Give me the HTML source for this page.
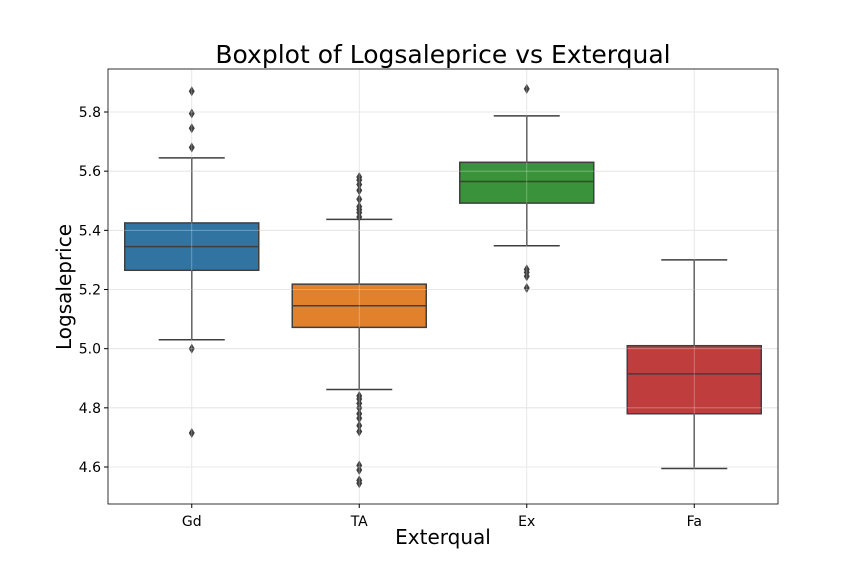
<!DOCTYPE html>
<html><head><meta charset="utf-8"><style>body{margin:0;background:#fff}svg{display:block;font-family:"DejaVu Sans","Liberation Sans",sans-serif}</style></head>
<body>
<svg id="chart" width="864" height="576" xmlns="http://www.w3.org/2000/svg">
<text x="443" y="63" font-size="25" text-anchor="middle">Boxplot of Logsaleprice vs Exterqual</text>
<text x="443" y="544" font-size="20" text-anchor="middle">Exterqual</text>
<text transform="translate(71,287) rotate(-90)" font-size="20" text-anchor="middle">Logsaleprice</text>
<g id="grid"></g><g id="boxes"></g><g id="gridtop"></g><g id="axes"></g>
</svg>
<script>
const categories=["Gd","TA","Ex","Fa"];
const colors=["#3274a1","#e1812c","#3a923a","#c03d3e"];
const q1=[5.265,5.072,5.492,4.78];
const medians=[5.345,5.145,5.565,4.915];
const q3=[5.425,5.218,5.63,5.01];
const whiskLow=[5.03,4.862,5.348,4.595];
const whiskHigh=[5.645,5.437,5.787,5.30];
const outliers=[[5.87,5.795,5.745,5.68,5.0,4.715],
[5.445,5.46,5.47,5.48,5.505,5.535,5.555,5.57,5.58,4.84,4.83,4.815,4.8,4.78,4.765,4.74,4.72,4.605,4.59,4.555,4.545],
[5.878,5.268,5.258,5.245,5.205],[]];
const yTicks=[4.6,4.8,5.0,5.2,5.4,5.6,5.8];
const L=108,R=778,T=69,B=504;
const y=v=>467-(v-4.6)*(355/1.2);
const x=i=>L+(R-L)/categories.length*(i+0.5);
const ns="http://www.w3.org/2000/svg";
function mk(p,tag,a){const e=document.createElementNS(ns,tag);for(const k in a)e.setAttribute(k,a[k]);document.getElementById(p).appendChild(e);return e;}
yTicks.forEach(t=>{
 let g=mk("grid","line",{x1:L,x2:R,y1:y(t),y2:y(t),stroke:"#d6d6d6","stroke-width":0.8});
 
 
 mk("gridtop","line",{x1:L,x2:R,y1:y(t),y2:y(t),stroke:"rgba(255,255,255,0.35)","stroke-width":0.8});
 mk("axes","line",{x1:L-4,x2:L,y1:y(t),y2:y(t),stroke:"#000"});
 let lb=mk("axes","text",{x:L-7,y:y(t)+5,"font-size":14,"text-anchor":"end"});lb.textContent=t.toFixed(1);
 
 
});
categories.forEach((c,i)=>{
 const cx=x(i),w=134;
 mk("grid","line",{x1:cx,x2:cx,y1:T,y2:B,stroke:"#d6d6d6","stroke-width":0.8});
 mk("gridtop","line",{x1:cx,x2:cx,y1:T,y2:B,stroke:"rgba(255,255,255,0.35)","stroke-width":0.8});
 const st={stroke:"#3f3f3f","stroke-width":1.5};
 mk("boxes","line",Object.assign({x1:cx,x2:cx,y1:y(q1[i]),y2:y(whiskLow[i])},st));
 mk("boxes","line",Object.assign({x1:cx,x2:cx,y1:y(q3[i]),y2:y(whiskHigh[i])},st));
 mk("boxes","line",Object.assign({x1:cx-33,x2:cx+33,y1:y(whiskLow[i]),y2:y(whiskLow[i])},st));
 mk("boxes","line",Object.assign({x1:cx-33,x2:cx+33,y1:y(whiskHigh[i]),y2:y(whiskHigh[i])},st));
 let b=mk("boxes","rect",Object.assign({x:cx-w/2,y:y(q3[i]),width:w,height:y(q1[i])-y(q3[i]),fill:colors[i]},st));
 
 
 mk("boxes","line",Object.assign({x1:cx-w/2,x2:cx+w/2,y1:y(medians[i]),y2:y(medians[i])},st));
 outliers[i].forEach(o=>{
  const oy=y(o);
  let p=mk("boxes","path",{d:`M${cx} ${oy-5}L${cx+3} ${oy}L${cx} ${oy+5}L${cx-3} ${oy}Z`,fill:"#3f3f3f"});
  
  
 });
 mk("axes","line",{x1:cx,x2:cx,y1:B,y2:B+4,stroke:"#000"});
 let lb=mk("axes","text",{x:cx,y:B+22,"font-size":14,"text-anchor":"middle"});lb.textContent=c;
 
 
});
let f=mk("axes","rect",{x:L,y:T,width:R-L,height:B-T,fill:"none",stroke:"#000","stroke-width":0.8});


</script>
</body></html>
